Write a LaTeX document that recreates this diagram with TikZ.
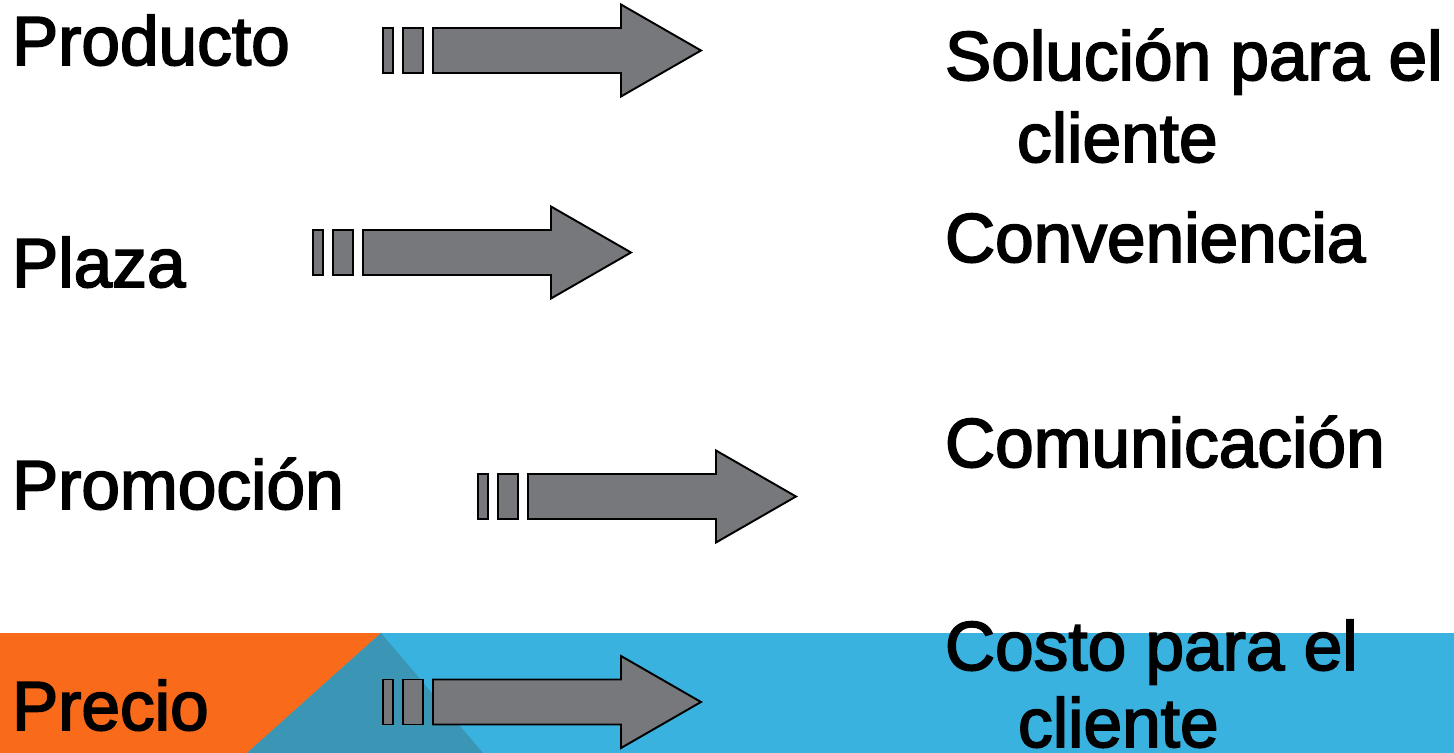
\documentclass[tikz,border=0pt]{standalone}
\usepackage{fontspec}
\setmainfont{Liberation Sans}
\newfontfamily\lblfont{Liberation Sans}[FakeBold=2.5]
\definecolor{bandorange}{HTML}{F96A1B}
\definecolor{bandblue}{HTML}{3AB2E0}
\definecolor{bandteal}{HTML}{3A96B4}
\definecolor{arrowgrey}{HTML}{77787B}
\tikzset{
  lbl/.style={anchor=base west, inner sep=0pt, outer sep=0pt, font=\lblfont\fontsize{39.5}{48}\selectfont, text=black},
  arrowpart/.style={fill=arrowgrey, draw=black, line width=1.1pt, line join=miter},
  striparrow/.pic={
    \path[arrowpart] (0,-22.5) rectangle (10,22.5);
    \path[arrowpart] (20,-22.5) rectangle (40,22.5);
    \path[arrowpart] (50,-22.5) -- (238,-22.5) -- (238,-46) -- (318,0) -- (238,46) -- (238,22.5) -- (50,22.5) -- cycle;
  }
}
\begin{document}
\begin{tikzpicture}[x=0.02cm,y=-0.02cm]
\useasboundingbox (0,0) rectangle (1454,753);
% bottom band
\fill[bandblue] (0,633) rectangle (1454,753);
\fill[bandorange] (0,633) -- (381,633) -- (247,753) -- (0,753) -- cycle;
\fill[bandteal] (381,633) -- (483,753) -- (247,753) -- cycle;
% arrows
\pic at (383,50.5) {striparrow};
\pic at (313,252.5) {striparrow};
\pic at (478,496.5) {striparrow};
\pic at (383,702) {striparrow};
% left labels
\node[lbl] (producto) at (12,65) {Producto};
\node[lbl] (plaza) at (12,287) {Plaza};
\node[lbl] (promocion) at (12,509) {Promoción};
\node[lbl] (precio) at (12,730) {Precio};
% right labels
\node[lbl] (solucion) at (945,80) {Solución para el};
\node[lbl] (cliente1) at (1017,162) {cliente};
\node[lbl] (conveniencia) at (945,262) {Conveniencia};
\node[lbl] (comunicacion) at (945,467) {Comunicación};
\node[lbl] (costo) at (945,670) {Costo para el};
\node[lbl] (cliente2) at (1018,747) {cliente};
\end{tikzpicture}
\end{document}
